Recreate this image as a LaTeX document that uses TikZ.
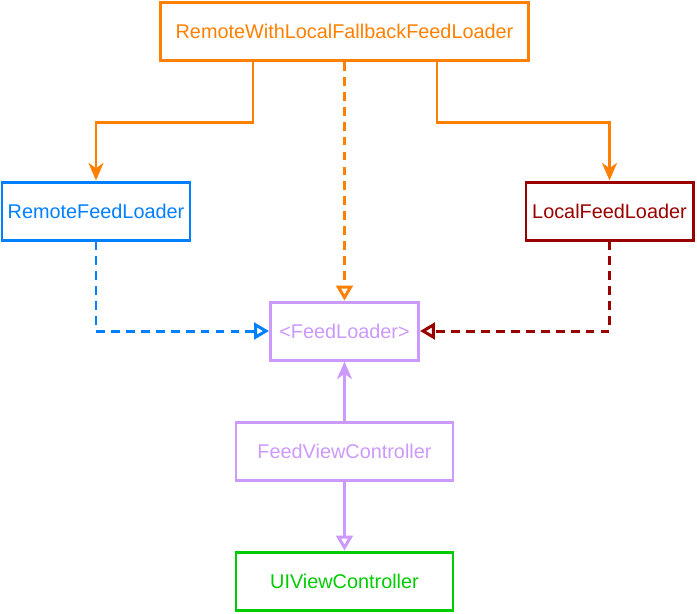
\documentclass[tikz,border=0pt]{standalone}
\usepackage{fontspec}
\setmainfont{Liberation Sans}
\usetikzlibrary{arrows.meta,calc}
\definecolor{dorange}{HTML}{FF8000}
\definecolor{dblue}{HTML}{007FFF}
\definecolor{dred}{HTML}{990000}
\definecolor{dpurple}{HTML}{CC99FF}
\definecolor{dgreen}{HTML}{00CC00}
\begin{document}
\begin{tikzpicture}[line width=1.7pt,
    every node/.style={font=\fontsize{11.3}{13}\selectfont},
    box/.style={draw,minimum height=1.16cm,inner sep=0pt},
    solidarr/.style={-{Stealth[length=10pt,width=8.5pt,inset=3pt]}},
    opentip/.style={-{Triangle[open,length=8.5pt,width=9.5pt,line width=1.7pt]}},
    openarr/.style={opentip,dash pattern=on 5pt off 3.5pt}]
        \useasboundingbox (0,0) rectangle (13.94,-12.26);
        \node[box,dorange,minimum width=7.36cm] (hybrid) at (6.89,-0.63) {RemoteWithLocalFallbackFeedLoader};
        \node[box,dblue,minimum width=3.76cm] (remote) at (1.92,-4.22) {RemoteFeedLoader};
        \node[box,dred,minimum width=3.34cm] (local) at (12.19,-4.22) {LocalFeedLoader};
        \node[box,dpurple,minimum width=2.96cm] (loader) at (6.89,-6.62) {<FeedLoader>};
        \node[box,dpurple,minimum width=4.34cm] (fvc) at (6.89,-9.02) {FeedViewController};
        \node[box,dgreen,minimum width=4.34cm] (uivc) at (6.89,-11.62) {UIViewController};
        % composite uses both loaders
        \draw[solidarr,dorange] ([xshift=-1.83cm]hybrid.south) -- ++(0,-1.21) -| (remote.north);
        \draw[solidarr,dorange] ([xshift=1.85cm]hybrid.south) -- ++(0,-1.21) -| (local.north);
        % implementations
        \draw[openarr,dorange] (hybrid.south) -- (loader.north);
        \draw[openarr,dblue] (remote.south) |- (loader.west);
        \draw[openarr,dred] (local.south) |- (loader.east);
        % controller
        \draw[solidarr,dpurple] (fvc.north) -- (loader.south);
        \draw[opentip,dpurple] (fvc.south) -- (uivc.north);
      \end{tikzpicture}
\end{document}
